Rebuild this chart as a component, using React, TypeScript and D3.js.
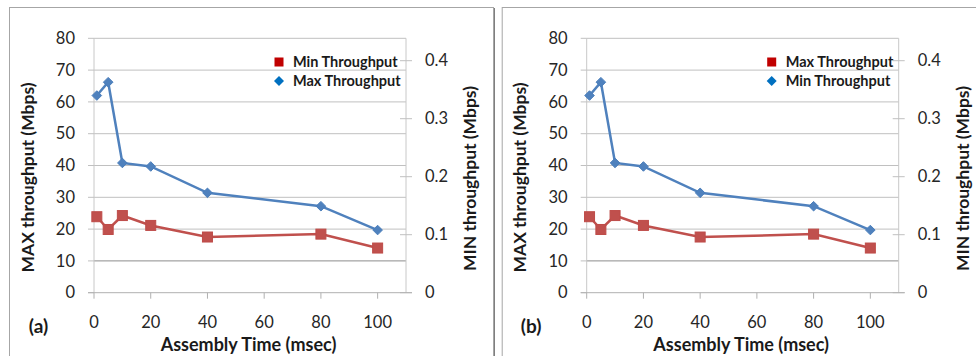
import React from "react";
import * as d3 from "d3";

const assemblyTime = [1, 5, 10, 20, 40, 80, 100];
const maxThroughput = [62, 66.2, 40.8, 39.7, 31.4, 27.2, 19.7];
const minThroughput = [0.131, 0.109, 0.133, 0.116, 0.096, 0.101, 0.077];
const leftTicks = [0, 10, 20, 30, 40, 50, 60, 70, 80];
const rightTicks = [0, 0.1, 0.2, 0.3, 0.4];
const xTicks = [0, 20, 40, 60, 80, 100];
const panelLabels = ["(a)", "(b)"];
const legendRed = ["Min Throughput", "Max Throughput"];
const legendBlue = ["Max Throughput", "Min Throughput"];

const FONT = "Lato, 'Open Sans', sans-serif";

function Panel({ dx, label, redName, blueName }: { dx: number; label: string; redName: string; blueName: string }) {
  const x = d3.scaleLinear().domain([0, 110]).range([94 + dx, 406 + dx]);
  const yL = d3.scaleLinear().domain([0, 80]).range([292.7, 38.3]);
  const yR = d3.scaleLinear().domain([0, 0.4386]).range([292.7, 38.3]);
  const blueLine = d3.line<number>().x((_, i) => x(assemblyTime[i])).y((v) => yL(v));
  const redLine = d3.line<number>().x((_, i) => x(assemblyTime[i])).y((v) => yR(v));
  const x0 = x(0), x1 = x(110);
  return (
    <g>
      {/* panel border */}
      <rect x={9.5 + dx} y={7.5} width={484} height={400} fill="none" stroke="#a6a6a6" strokeWidth={1} />
      <line x1={494.5 + dx} x2={494.5 + dx} y1={8} y2={356} stroke="#7f7f7f" strokeWidth={1} />
      {/* gridlines */}
      {leftTicks.filter((t) => t > 0).map((t) => (
        <line key={t} x1={x0} x2={x1} y1={yL(t)} y2={yL(t)} stroke={t === 10 ? "#8c8c8c" : "#c0c0c0"} strokeWidth={1} />
      ))}
      {/* left axis */}
      <line x1={x0} x2={x0} y1={yL(80)} y2={yL(0)} stroke="#c8c8c8" />
      {leftTicks.map((t) => (
        <line key={t} x1={x0 - 6} x2={x0} y1={yL(t)} y2={yL(t)} stroke="#c0c0c0" />
      ))}
      {leftTicks.map((t) => (
        <text key={t} x={x0 - 19} y={yL(t)} dy="0.35em" textAnchor="end" fontFamily={FONT} fontSize={16.5} fill="#262626">{t}</text>
      ))}
      {/* right axis */}
      <line x1={x1} x2={x1} y1={yL(80)} y2={yL(0)} stroke="#c8c8c8" />
      {rightTicks.map((t) => (
        <line key={t} x1={x1 - 6} x2={x1 + 6} y1={yR(t)} y2={yR(t)} stroke="#c0c0c0" />
      ))}
      {rightTicks.map((t) => (
        <text key={t} x={x1 + 19} y={yR(t)} dy="0.35em" textAnchor="start" fontFamily={FONT} fontSize={16.5} fill="#262626">{t === 0 ? "0" : t.toFixed(1)}</text>
      ))}
      {/* bottom axis */}
      <line x1={x0 - 6} x2={x1 + 6} y1={yL(0)} y2={yL(0)} stroke="#b0b0b0" />
      {xTicks.map((t) => (
        <line key={t} x1={x(t)} x2={x(t)} y1={yL(0)} y2={yL(0) + 6} stroke="#b0b0b0" />
      ))}
      {xTicks.map((t) => (
        <text key={t} x={x(t)} y={322.5} dy="0.35em" textAnchor="middle" fontFamily={FONT} fontSize={16.5} fill="#262626">{t}</text>
      ))}
      {/* titles */}
      <text x={248.5 + dx} y={350.5} textAnchor="middle" fontFamily={FONT} fontSize={18} fontWeight="bold" fill="#1a1a1a">Assembly Time (msec)</text>
      <text x={38.5 + dx} y={326} dy="0.35em" textAnchor="middle" fontFamily={FONT} fontSize={19} fontWeight="bold" fill="#1a1a1a">{label}</text>
      <text transform={`translate(${33.5 + dx},177.5) rotate(-90)`} textAnchor="middle" fontFamily={FONT} fontSize={17.5} fontWeight="bold" fill="#1a1a1a">MAX throughput (Mbps)</text>
      <text transform={`translate(${476 + dx},178.5) rotate(-90)`} textAnchor="middle" fontFamily={FONT} fontSize={17.5} fontWeight="bold" fill="#1a1a1a">MIN throughput (Mbps)</text>
      {/* series */}
      <path d={redLine(minThroughput) || ""} fill="none" stroke="#C0504D" strokeWidth={2.5} />
      <path d={blueLine(maxThroughput) || ""} fill="none" stroke="#4F81BD" strokeWidth={2.5} />
      {minThroughput.map((v, i) => (
        <rect key={i} x={x(assemblyTime[i]) - 5} y={yR(v) - 5} width={10} height={10} fill="#C0504D" stroke="#BE4B48" />
      ))}
      {maxThroughput.map((v, i) => {
        const cx = x(assemblyTime[i]), cy = yL(v);
        return <path key={i} d={`M${cx},${cy - 4.8}L${cx + 4.8},${cy}L${cx},${cy + 4.8}L${cx - 4.8},${cy}Z`} fill="#4F81BD" stroke="#4A7EBB" />;
      })}
      {/* legend */}
      <rect x={274.5 + dx} y={57.5} width={9} height={9} fill="#C00000" />
      <text x={293 + dx} y={62} dy="0.35em" fontFamily={FONT} fontSize={14.5} fontWeight="bold" fill="#1a1a1a">{redName}</text>
      <path d={`M${279 + dx},${76}L${284 + dx},${81}L${279 + dx},${86}L${274 + dx},${81}Z`} fill="#0070C0" />
      <text x={293 + dx} y={81} dy="0.35em" fontFamily={FONT} fontSize={14.5} fontWeight="bold" fill="#1a1a1a">{blueName}</text>
    </g>
  );
}

export default function App() {
  return (
    <svg width={976} height={356} style={{ position: "absolute", left: 0, top: 0, background: "#fff" }}>
      <rect width={976} height={356} fill="#fff" />
      {panelLabels.map((lab, k) => (
        <Panel key={lab} dx={k * 492.7} label={lab} redName={legendRed[k]} blueName={legendBlue[k]} />
      ))}
    </svg>
  );
}
